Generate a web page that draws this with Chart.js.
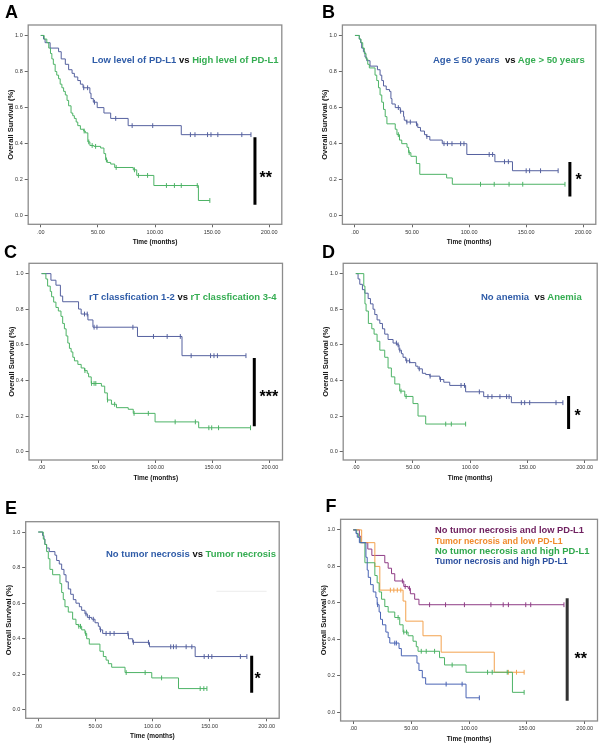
<!DOCTYPE html>
<html><head><meta charset="utf-8">
<script src="https://cdn.jsdelivr.net/npm/chart.js@4.4.1/dist/chart.umd.min.js"></script>
<style>
html,body{margin:0;padding:0;width:600px;height:746px;overflow:hidden;background:#fff;}
#wrap{position:relative;width:600px;height:746px;font-family:"Liberation Sans",Arial,sans-serif;}
canvas{position:absolute;}
.lt{position:absolute;font-weight:bold;font-size:18px;line-height:18px;color:#000;}
.lg{position:absolute;font-weight:bold;font-size:9.5px;line-height:9.5px;white-space:pre;transform-origin:0 0;}
.st{position:absolute;font-weight:bold;font-size:16px;line-height:16px;color:#000;}
</style></head><body><div id="wrap"></div><script>
// ---------- axis ticks ----------
const X_TICKS = [0, 50, 100, 150, 200];
const X_TICK_LABELS = ['.00', '50.00', '100.00', '150.00', '200.00'];
const Y_TICKS = [0, 0.2, 0.4, 0.6, 0.8, 1.0];
const Y_TICK_LABELS = ['0.0', '0.2', '0.4', '0.6', '0.8', '1.0'];

// ---------- A: PD-L1 ----------
const aLowT = [0, 2.4, 3.8, 8.2, 15.6, 17.9, 21.5, 24.4, 27.4, 29.4, 32.4, 34.7, 37, 43, 44, 46, 49.4, 55.3, 61.2, 76.5, 123, 184];
const aLowS = [1, 0.98, 0.96, 0.93, 0.91, 0.87, 0.84, 0.81, 0.79, 0.77, 0.75, 0.73, 0.71, 0.68, 0.65, 0.63, 0.60, 0.57, 0.54, 0.50, 0.45, 0.45];
const aLowC = [37.6, 41, 47, 65.6, 80, 98, 131, 135, 146, 149, 155, 176, 184];
const aHighT = [0, 3, 5.3, 7, 8.5, 9.7, 11, 12.6, 14, 15.6, 17, 18.5, 20, 21.5, 23, 24.4, 26.5, 28, 29.4, 31, 32.4, 34.7, 37.6, 39, 41.2, 43, 46.5, 52.4, 55.3, 56.8, 58.2, 61.2, 64.7, 81, 84, 99, 138, 148];
const aHighS = [1, 0.98, 0.96, 0.93, 0.90, 0.87, 0.84, 0.80, 0.78, 0.76, 0.73, 0.71, 0.69, 0.67, 0.64, 0.61, 0.57, 0.555, 0.54, 0.52, 0.50, 0.48, 0.47, 0.46, 0.41, 0.39, 0.385, 0.376, 0.345, 0.31, 0.296, 0.287, 0.268, 0.255, 0.224, 0.168, 0.085, 0.085];
const aHighC = [38, 42, 45, 48, 57.5, 66, 82, 85.5, 93.5, 110, 117, 123, 137, 148];
const aBar = [187.5, 0.062, 0.436];

// ---------- B: Age ----------
const bYoungT = [0, 3.8, 5, 5.9, 7.4, 8.8, 10.3, 13.2, 19.7, 22, 23.5, 25, 27.4, 30.3, 31.5, 32.4, 35.3, 39.7, 42.6, 43.2, 45, 53.8, 55, 57.4, 60.9, 62.6, 65.6, 76.5, 98, 122.6, 138, 178];
const bYoungS = [1, 0.98, 0.96, 0.93, 0.91, 0.88, 0.86, 0.83, 0.81, 0.78, 0.75, 0.72, 0.70, 0.69, 0.65, 0.62, 0.60, 0.58, 0.55, 0.53, 0.52, 0.51, 0.49, 0.47, 0.45, 0.44, 0.42, 0.40, 0.34, 0.30, 0.25, 0.25];
const bYoungC = [38, 40, 45.5, 48.5, 54, 63, 78, 81, 85, 92.6, 95.5, 117.6, 120.6, 131, 134.4, 150, 153, 162.6, 178];
const bOldT = [0, 3.8, 5.3, 6.8, 8.2, 9.7, 11.2, 12.6, 17.6, 19.1, 20.6, 22, 23.5, 25, 26.5, 28, 35.3, 36.8, 39, 41, 45.6, 47, 49, 53.8, 56.8, 80.3, 85.3, 184];
const bOldS = [1, 0.98, 0.96, 0.93, 0.90, 0.87, 0.84, 0.82, 0.78, 0.75, 0.71, 0.67, 0.63, 0.59, 0.55, 0.51, 0.48, 0.45, 0.42, 0.40, 0.38, 0.35, 0.33, 0.29, 0.23, 0.21, 0.175, 0.175];
const bOldC = [38, 47.5, 110, 122, 135, 147, 184];
const bBar = [188.3, 0.107, 0.299];

// ---------- C: rT classification ----------
const cLowT = [0, 8.2, 12.6, 16.5, 18.5, 32.4, 34.7, 40.6, 45, 84, 123, 179];
const cLowS = [1, 0.963, 0.935, 0.874, 0.842, 0.801, 0.773, 0.74, 0.699, 0.647, 0.539, 0.539];
const cLowC = [37.6, 40, 46, 48.5, 80, 98, 110, 121.5, 131, 148, 151, 154, 179];
const cHighT = [0, 3.8, 5.3, 7.6, 8.8, 10.6, 12.6, 14.7, 17, 18.5, 20, 21.5, 23, 24.4, 25.9, 27.4, 28.8, 31.8, 34.7, 37.6, 40, 41.2, 43.5, 52.4, 55.3, 57.6, 61.2, 65.6, 75.9, 80.3, 99.4, 137.6, 183];
const cHighS = [1, 0.97, 0.93, 0.90, 0.87, 0.84, 0.81, 0.79, 0.76, 0.72, 0.69, 0.65, 0.61, 0.58, 0.56, 0.53, 0.51, 0.49, 0.47, 0.455, 0.44, 0.42, 0.383, 0.368, 0.33, 0.29, 0.266, 0.247, 0.238, 0.215, 0.167, 0.134, 0.134];
const cHighC = [38, 43.8, 46, 47.5, 57.8, 64, 81, 93.5, 117, 134.7, 146.5, 149, 155, 183];
const cBar = [186.3, 0.142, 0.526];

// ---------- D: anemia ----------
const dNoT = [0, 2, 3.5, 5.8, 7.9, 10.8, 12.8, 15.1, 16.6, 18.6, 21, 23.3, 25.3, 28.2, 32.6, 36.1, 37.8, 39.9, 41.3, 43.7, 47.2, 52.4, 54.4, 58.2, 61.1, 64.6, 73.4, 76.9, 82.1, 96, 111.8, 136, 181];
const dNoS = [1, 0.97, 0.94, 0.91, 0.89, 0.86, 0.83, 0.80, 0.77, 0.74, 0.72, 0.69, 0.66, 0.63, 0.61, 0.60, 0.57, 0.55, 0.53, 0.51, 0.50, 0.48, 0.465, 0.44, 0.433, 0.424, 0.405, 0.39, 0.372, 0.336, 0.309, 0.275, 0.275];
const dNoC = [35.5, 37, 38.5, 44.5, 47, 55.5, 65, 74, 92, 95, 108, 115.5, 119, 126, 131.8, 134, 144.7, 147.6, 152, 175, 181];
const dYesT = [0, 7, 8, 9, 11, 14, 16, 18.6, 21, 25.3, 28.2, 31.1, 34.1, 38.4, 42.8, 50, 54.4, 61.1, 96];
const dYesS = [1, 0.93, 0.83, 0.79, 0.72, 0.69, 0.66, 0.62, 0.57, 0.53, 0.47, 0.42, 0.38, 0.34, 0.31, 0.27, 0.20, 0.155, 0.155];
const dYesC = [39.5, 44, 78.6, 83.5, 96];
const dBar = [186, 0.127, 0.312];

// ---------- E: tumor necrosis ----------
const eNoT = [0, 3.8, 5, 5.8, 7.3, 9.6, 14.6, 16.1, 18.4, 20.5, 22.5, 24.3, 26.3, 28.4, 30.7, 33, 36, 38, 40.9, 43, 46.8, 49.7, 52.6, 54, 56.4, 79, 82.7, 97.4, 137.4, 182.7];
const eNoS = [1, 0.98, 0.96, 0.93, 0.91, 0.89, 0.87, 0.84, 0.82, 0.79, 0.76, 0.72, 0.68, 0.65, 0.62, 0.60, 0.58, 0.56, 0.54, 0.52, 0.51, 0.49, 0.47, 0.45, 0.43, 0.40, 0.38, 0.355, 0.30, 0.30];
const eNoC = [41.8, 44.7, 48.2, 54.5, 59.4, 62.9, 66.4, 78.5, 83.3, 96.5, 116, 118.4, 120.8, 129.5, 134.5, 145.3, 149, 152, 177, 182.7];
const eYesT = [0, 4.4, 5.8, 7.3, 8.8, 10.2, 12.6, 19, 20.5, 21.9, 23.4, 26.3, 30.1, 33, 35.1, 38, 40.9, 42.4, 44.7, 54, 57, 59.4, 61.4, 64.3, 76, 99.4, 122.8, 147.7];
const eYesS = [1, 0.96, 0.93, 0.89, 0.85, 0.79, 0.76, 0.71, 0.66, 0.62, 0.58, 0.55, 0.51, 0.48, 0.47, 0.45, 0.43, 0.40, 0.37, 0.33, 0.30, 0.28, 0.26, 0.24, 0.21, 0.18, 0.12, 0.12];
const eYesC = [35.5, 37, 41.5, 77, 93.6, 108, 141.8, 145, 147.7];
const eBar = [186.9, 0.097, 0.305];
const eFaintX = [156, 200];
const eFaintY = [0.667, 0.667];

// ---------- F: combined ----------
const fPurT = [0, 5.2, 6.5, 12.5, 16, 27.2, 30.1, 33, 35.8, 43.6, 47.3, 49.3, 53, 56.7, 182];
const fPurS = [1, 0.965, 0.93, 0.895, 0.86, 0.82, 0.79, 0.76, 0.72, 0.69, 0.68, 0.65, 0.62, 0.59, 0.59];
const fPurC = [42.4, 44.8, 48.5, 65.9, 79.7, 96, 118.9, 129.5, 134, 149, 153.3, 182];
const fOrT = [0, 7.2, 18.6, 22.9, 43, 45.3, 60.2, 75.9, 121.8, 147.6];
const fOrS = [1, 0.93, 0.80, 0.67, 0.61, 0.50, 0.42, 0.33, 0.22, 0.22];
const fOrC = [32, 35, 38, 41, 134, 141, 147.6];
const fGrT = [0, 2.9, 4.3, 5.7, 10, 18.6, 20.6, 22.3, 24.4, 27.2, 30.1, 35.8, 40.1, 43, 47.3, 51.6, 54.4, 55.9, 74.5, 78.8, 97.4, 137.5, 147.6];
const fGrS = [1, 0.98, 0.96, 0.93, 0.82, 0.75, 0.71, 0.66, 0.62, 0.58, 0.55, 0.52, 0.48, 0.44, 0.42, 0.39, 0.36, 0.335, 0.30, 0.26, 0.22, 0.11, 0.11];
const fGrC = [38.7, 43.6, 46, 58.7, 63, 70.2, 85.4, 116, 120, 133, 147.6];
const fBlT = [0, 2.3, 3.4, 5.2, 10.9, 12, 12.9, 14.9, 17.2, 19.5, 20.6, 22.3, 23.5, 25.2, 28.1, 30.1, 31.5, 39.5, 41.5, 55, 56.7, 59.6, 62.5, 97.4, 108.9];
const fBlS = [1, 0.98, 0.96, 0.93, 0.85, 0.78, 0.74, 0.70, 0.66, 0.63, 0.59, 0.55, 0.51, 0.48, 0.44, 0.41, 0.38, 0.35, 0.31, 0.27, 0.23, 0.19, 0.155, 0.08, 0.08];
const fBlC = [21, 35.8, 37.2, 80.2, 94, 108.9];
const fBar = [184.8, 0.064, 0.625];

// ---------- colours ----------
const LINE_BLUE = '#55619f', LINE_GREEN = '#4db366';
const TXT_BLUE = '#2f5ca8', TXT_GREEN = '#35ad52';
const F_PUR = '#8f3d86', F_OR = '#f3a24e', F_GR = '#4db366', F_BL = '#4a64b4';
const F_PUR_T = '#6f2160', F_OR_T = '#f08a2b', F_GR_T = '#2fa84c', F_BL_T = '#2b4f9f';

// ---------- helpers ----------
const pts = (T, S) => T.map((t, i) => ({x: t, y: S[i]}));
function survAt(T, S, t) { let v = S[0]; for (let i = 0; i < T.length; i++) if (T[i] <= t) v = S[i]; return v; }
const cens = (T, S, C) => C.map(t => ({x: t, y: survAt(T, S, t)}));

const panels = [
  {id: 'A', frame: {l: 28.2, t: 25, r: 281.8, b: 224.3}, letter: [5, 3.2],
   curves: [[aHighT, aHighS, aHighC, LINE_GREEN], [aLowT, aLowS, aLowC, LINE_BLUE]], bar: aBar, barColor: '#000',
   legend: [{x: 91.7, cy: 60, w: 186.6, segs: [['Low level of PD-L1', TXT_BLUE], [' vs ', '#111'], ['High level of PD-L1', TXT_GREEN]]}],
   star: ['**', 259.5, 175]},
  {id: 'B', frame: {l: 342.4, t: 25, r: 595.8, b: 224.3}, letter: [322, 3.2],
   curves: [[bOldT, bOldS, bOldC, LINE_GREEN], [bYoungT, bYoungS, bYoungC, LINE_BLUE]], bar: bBar, barColor: '#000',
   legend: [{x: 433.3, cy: 59.3, w: 151.7, segs: [['Age \u2264 50 years', TXT_BLUE], ['  vs ', '#111'], ['Age > 50 years', TXT_GREEN]]}],
   star: ['*', 575.5, 176.7]},
  {id: 'C', frame: {l: 29, t: 263.3, r: 282.5, b: 460}, letter: [4, 242.8],
   curves: [[cHighT, cHighS, cHighC, LINE_GREEN], [cLowT, cLowS, cLowC, LINE_BLUE]], bar: cBar, barColor: '#000',
   legend: [{x: 89.3, cy: 296.7, w: 187.4, segs: [['rT classfication 1-2', TXT_BLUE], [' vs ', '#111'], ['rT classfication 3-4', TXT_GREEN]]}],
   star: ['***', 259.5, 393.3]},
  {id: 'D', frame: {l: 343.2, t: 263.3, r: 597.2, b: 460}, letter: [322, 242.8],
   curves: [[dYesT, dYesS, dYesC, LINE_GREEN], [dNoT, dNoS, dNoC, LINE_BLUE]], bar: dBar, barColor: '#000',
   legend: [{x: 481, cy: 296.7, w: 100.7, segs: [['No anemia', TXT_BLUE], ['  vs ', '#111'], ['Anemia', TXT_GREEN]]}],
   star: ['*', 574.5, 412.7]},
  {id: 'E', frame: {l: 25.7, t: 521.7, r: 279.2, b: 718.3}, letter: [5, 498.5],
   curves: [[eYesT, eYesS, eYesC, LINE_GREEN], [eNoT, eNoS, eNoC, LINE_BLUE]], bar: eBar, barColor: '#000', faint: [eFaintX, eFaintY],
   legend: [{x: 106, cy: 553.3, w: 170, segs: [['No tumor necrosis', TXT_BLUE], [' vs ', '#111'], ['Tumor necrosis', TXT_GREEN]]}],
   star: ['*', 254.5, 676]},
  {id: 'F', frame: {l: 340.6, t: 519.3, r: 597.5, b: 721}, letter: [325.5, 497.2],
   curves: [[fBlT, fBlS, fBlC, F_BL], [fGrT, fGrS, fGrC, F_GR], [fOrT, fOrS, fOrC, F_OR], [fPurT, fPurS, fPurC, F_PUR]], bar: fBar, barColor: '#333',
   legend: [
     {x: 435, cy: 530, w: 149, segs: [['No tumor necrosis and low PD-L1', F_PUR_T]]},
     {x: 435, cy: 540.2, w: 127.7, segs: [['Tumor necrosis and low PD-L1', F_OR_T]]},
     {x: 435, cy: 550.3, w: 154.3, segs: [['No tumor necrosis and high PD-L1', F_GR_T]]},
     {x: 435, cy: 560.4, w: 132.7, segs: [['Tumor necrosis and high PD-L1', F_BL_T]]}],
   star: ['**', 574.5, 656]}
];

const framePlugin = {
  id: 'frame',
  afterDraw(chart) {
    const {ctx, chartArea: a} = chart;
    ctx.save();
    ctx.strokeStyle = '#8c8c8c';
    ctx.lineWidth = 1.3;
    ctx.strokeRect(a.left, a.top, a.right - a.left, a.bottom - a.top);
    ctx.restore();
  }
};

const wrap = document.getElementById('wrap');
const FONT = '"Liberation Sans", Arial, sans-serif';

panels.forEach(p => {
  const f = p.frame;
  const L = Math.floor(f.l - 28), T = Math.floor(f.t - 8);
  const R = Math.ceil(f.r + 6), B = Math.ceil(f.b + 24);
  const W = R - L, H = B - T;
  const YW = f.l - L, padT = f.t - T, padR = R - f.r, XH = B - f.b;
  const cv = document.createElement('canvas');
  cv.width = W; cv.height = H;
  cv.style.left = L + 'px'; cv.style.top = T + 'px';
  cv.style.width = W + 'px'; cv.style.height = H + 'px';
  wrap.appendChild(cv);

  const datasets = [];
  if (p.faint) {
    datasets.push({data: pts(p.faint[0], p.faint[1]), borderColor: '#ececec', borderWidth: 1, pointRadius: 0});
  }
  p.curves.forEach(([ts, ss, cs, col]) => {
    datasets.push({data: pts(ts, ss), stepped: true, borderColor: col, borderWidth: 1, pointRadius: 0, fill: false});
    datasets.push({data: cens(ts, ss, cs), showLine: false, pointStyle: 'line', rotation: 90, pointRadius: 2.4,
      pointBorderColor: col, pointBorderWidth: 1, borderColor: col, pointBackgroundColor: col});
  });
  datasets.push({data: [{x: p.bar[0], y: p.bar[1]}, {x: p.bar[0], y: p.bar[2]}], borderColor: p.barColor,
    borderWidth: 3, pointRadius: 0, borderCapStyle: 'butt'});

  const titleLhX = 6.5 * 1.2, titleLhY = 7.5 * 1.2;
  new Chart(cv, {
    type: 'line',
    data: {datasets},
    options: {
      responsive: false, animation: false, devicePixelRatio: 1,
      layout: {padding: {top: padT, right: padR, left: 0, bottom: 0}},
      plugins: {legend: {display: false}, tooltip: {enabled: false}},
      elements: {line: {tension: 0}},
      scales: {
        x: {
          type: 'linear', min: -11, max: 211,
          afterBuildTicks: s => { s.ticks = X_TICKS.map(v => ({value: v})); },
          afterFit: s => { s.height = XH; },
          ticks: {callback: (v, i) => X_TICK_LABELS[i], font: {family: FONT, size: 5.5}, color: '#333',
            padding: 1.5, maxRotation: 0, autoSkip: false},
          grid: {drawOnChartArea: false, drawTicks: true, tickLength: 3, color: '#666'},
          border: {display: false},
          title: {display: true, text: 'Time (months)', color: '#111',
            font: {family: FONT, size: 6.5, weight: 'bold'},
            padding: {top: 0, bottom: Math.max(0, XH - 17.8 - titleLhX / 2)}}
        },
        y: {
          type: 'linear', min: -0.047, max: 1.058,
          afterBuildTicks: s => { s.ticks = Y_TICKS.map(v => ({value: v})); },
          afterFit: s => { s.width = YW; },
          ticks: {callback: (v, i) => Y_TICK_LABELS[i], font: {family: FONT, size: 5.5}, color: '#333', padding: 2},
          grid: {drawOnChartArea: false, drawTicks: true, tickLength: 3.5, color: '#666'},
          border: {display: false},
          title: {display: true, text: 'Overall Survival (%)', color: '#111',
            font: {family: FONT, size: 7.5, weight: 'bold'},
            padding: {top: Math.max(0, YW - 17 - titleLhY / 2), bottom: 0}}
        }
      }
    },
    plugins: [framePlugin]
  });

  // panel letter
  const lt = document.createElement('div');
  lt.className = 'lt'; lt.textContent = p.id;
  lt.style.left = p.letter[0] + 'px'; lt.style.top = p.letter[1] + 'px';
  wrap.appendChild(lt);

  // legend text
  p.legend.forEach(line => {
    const d = document.createElement('div');
    d.className = 'lg';
    line.segs.forEach(([txt, col]) => {
      const s = document.createElement('span');
      s.textContent = txt; s.style.color = col;
      d.appendChild(s);
    });
    d.style.left = line.x + 'px';
    d.style.top = (line.cy - 4.6) + 'px';
    wrap.appendChild(d);
    const w = d.getBoundingClientRect().width;
    let k = line.w / w; k = Math.min(1.15, Math.max(0.85, k));
    d.style.transform = 'scaleX(' + k.toFixed(3) + ')';
  });

  // significance stars
  const st = document.createElement('div');
  st.className = 'st'; st.textContent = p.star[0];
  st.style.left = p.star[1] + 'px'; st.style.top = (p.star[2] - 4.7) + 'px';
  wrap.appendChild(st);
});
</script></body></html>
